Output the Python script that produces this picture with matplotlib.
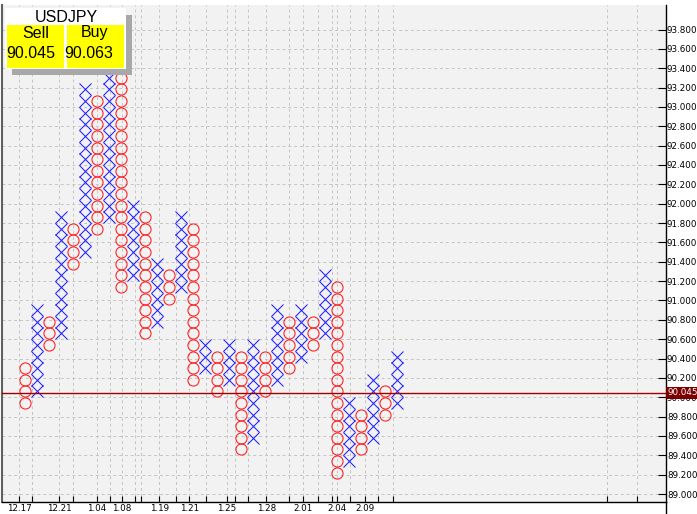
import matplotlib
matplotlib.use('Agg')
import matplotlib.pyplot as plt
import matplotlib.transforms as mtransforms
from matplotlib.patches import Rectangle
import numpy as np

# ---------------- data ----------------
symbol = "USDJPY"
sell_price = "90.045"
buy_price = "90.063"
current_price = 90.045
box_size = 0.12

col_type = ['O', 'X', 'O', 'X', 'O', 'X', 'O', 'X', 'O', 'X', 'O', 'X', 'O', 'X', 'O', 'X',
            'O', 'X', 'O', 'X', 'O', 'X', 'O', 'X', 'O', 'X', 'O', 'X', 'O', 'X', 'O', 'X']
col_low = [89.94, 90.06, 90.54, 90.66, 91.38, 91.50, 91.74, 91.86, 91.14, 91.26, 90.66, 90.78,
           91.02, 91.14, 90.18, 90.30, 90.06, 90.18, 89.46, 89.58, 90.06, 90.18, 90.30, 90.42,
           90.54, 90.66, 89.22, 89.34, 89.46, 89.58, 89.82, 89.94]
col_high = [90.30, 90.90, 90.78, 91.86, 91.74, 93.18, 93.06, 93.78, 93.66, 91.98, 91.86, 91.38,
            91.26, 91.86, 91.74, 90.54, 90.42, 90.54, 90.42, 90.54, 90.42, 90.90, 90.78, 90.90,
            90.78, 91.26, 91.14, 89.94, 89.82, 90.18, 90.06, 90.42]

y_ticks = [89.0, 89.2, 89.4, 89.6, 89.8, 90.0, 90.2, 90.4, 90.6, 90.8, 91.0, 91.2, 91.4,
           91.6, 91.8, 92.0, 92.2, 92.4, 92.6, 92.8, 93.0, 93.2, 93.4, 93.6, 93.8]
y_tick_labels = ["89.000", "89.200", "89.400", "89.600", "89.800", "90.000", "90.200",
                 "90.400", "90.600", "90.800", "91.000", "91.200", "91.400", "91.600",
                 "91.800", "92.000", "92.200", "92.400", "92.600", "92.800", "93.000",
                 "93.200", "93.400", "93.600", "93.800"]

x_ticks = [0.5, 1.55, 3.85, 5.0, 7.0, 8.05, 9.1, 10.2, 10.7, 12.2, 13.6, 14.7, 16.1, 17.8,
           18.5, 19.6, 21.1, 23.0, 24.2, 25.4, 26.6, 27.0, 28.1, 29.3, 30.4, 31.7, 49.5, 52.0]
x_tick_labels = ["12.17", "", "12.21", "", "1.04", "", "1.08", "", "", "1.19", "", "1.21", "",
                 "1.25", "", "", "1.28", "", "2.01", "", "", "2.04", "", "2.09", "", "", "", ""]

# ---------------- figure ----------------
W, H = 697, 514
fig = plt.figure(figsize=(W / 100, H / 100), dpi=100, facecolor='white')

px_left, px_right, px_top, px_bottom = 2, 665.5, 5, 501.5
ax = fig.add_axes([px_left / W, 1 - px_bottom / H, (px_right - px_left) / W, (px_bottom - px_top) / H])
ax.set_facecolor('#f2f2f2')

# scales (col i centre at pixel 13 + 12 i ; 89.0 at y=494, 93.8 at y=29.5)
ppu = (494 - 29.5) / 4.8
ax.set_xlim((px_left - 13) / 12, (px_right - 13) / 12)
ax.set_ylim(89.0 - (px_bottom - 494) / ppu, 93.8 + (29.5 - px_top) / ppu)

for i, (t, lo, hi) in enumerate(zip(col_type, col_low, col_high), start=1):
    n = int(round((hi - lo) / box_size)) + 1
    ys = lo + box_size * np.arange(n)
    xs = np.full(n, i)
    if t == 'X':
        ax.plot(xs, ys, linestyle='none', marker='x', ms=8.8, mew=0.75, color='#1f1fff', zorder=3)
    else:
        ax.plot(xs, ys, linestyle='none', marker='o', ms=8.0, mew=0.75, mfc='none',
                mec='#ff1a1a', zorder=3)

ax.axhline(current_price, color='#a00000', lw=1.0, zorder=4)

# grid
ax.set_yticks(y_ticks)
ax.set_yticklabels(y_tick_labels)
ax.set_xticks(x_ticks)
ax.set_xticklabels(x_tick_labels)
ax.grid(True, color='#c4c4c4', linestyle=(0, (3, 3)), linewidth=0.7, zorder=0)
ax.set_axisbelow(True)

ax.yaxis.tick_right()
ax.tick_params(axis='y', direction='in', length=5.5, width=0.8, pad=1.0,
               labelsize=6.3, colors='black')
ax.tick_params(axis='x', direction='in', length=4, width=0.8, pad=2.0,
               labelsize=6.3, colors='black')
for lab in ax.get_yticklabels() + ax.get_xticklabels():
    lab.set_family('DejaVu Sans')

ax.spines['top'].set_visible(False)
ax.spines['right'].set_color('black')
ax.spines['right'].set_linewidth(1.0)
ax.spines['bottom'].set_color('black')
ax.spines['bottom'].set_linewidth(1.0)
ax.spines['left'].set_color('#606060')
ax.spines['left'].set_linewidth(1.5)

# current price tag on the axis
trans = mtransforms.blended_transform_factory(ax.transAxes, ax.transData)
ax.text(1.0 + 2.5 / (px_right - px_left), current_price, "90.045", transform=trans,
        ha='left', va='center', fontsize=6.3, color='white', family='DejaVu Sans',
        bbox=dict(facecolor='#7a0000', edgecolor='none', pad=1.2), zorder=6, clip_on=False)

# ---------------- overlay (info panel) ----------------
ov = fig.add_axes([0, 0, 1, 1])
ov.set_xlim(0, W)
ov.set_ylim(H, 0)
ov.axis('off')
ov.patch.set_alpha(0)

ov.plot([px_right, px_right], [px_bottom, H], color='black', lw=1.0)

narrow = ['Liberation Sans Narrow', 'DejaVu Sans Condensed', 'Liberation Sans', 'DejaVu Sans']
ov.add_patch(Rectangle((12, 15), 120, 60, facecolor='#a8a8a8', edgecolor='none', zorder=5))
ov.add_patch(Rectangle((5, 8), 121, 61, facecolor='white', edgecolor='none', zorder=6))
ov.add_patch(Rectangle((7, 25), 57, 43, facecolor='#ffff00', edgecolor='none', zorder=7))
ov.add_patch(Rectangle((67, 25), 57, 43, facecolor='#ffff00', edgecolor='none', zorder=7))
ov.text(66, 17, symbol, ha='center', va='center', fontsize=11.5, family=narrow, zorder=8)
ov.text(36, 33, "Sell", ha='center', va='center', fontsize=11.5, family=narrow, zorder=8)
ov.text(95, 33, "Buy", ha='center', va='center', fontsize=11.5, family=narrow, zorder=8)
ov.text(31, 53, sell_price, ha='center', va='center', fontsize=11.5, family=narrow, zorder=8)
ov.text(89, 53, buy_price, ha='center', va='center', fontsize=11.5, family=narrow, zorder=8)

fig.savefig('out.png', dpi=100, facecolor='white')
